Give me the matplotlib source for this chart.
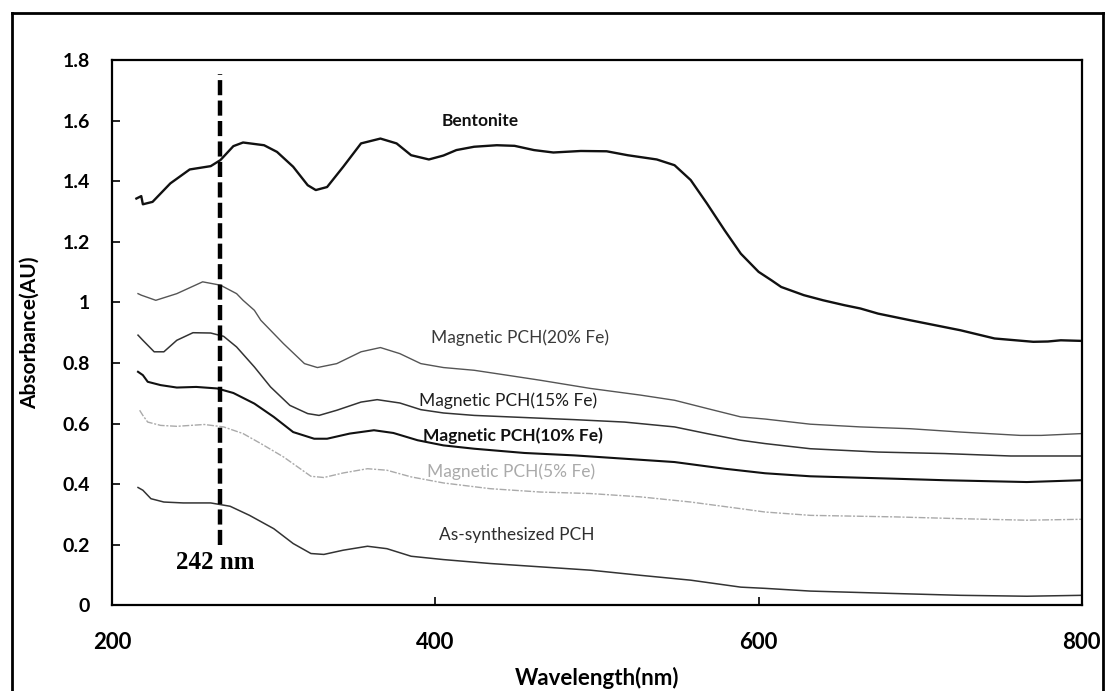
import matplotlib
matplotlib.use("Agg")
import matplotlib.pyplot as plt
from matplotlib.lines import Line2D

plt.rcParams["font.family"] = ["Lato", "DejaVu Sans"]

wl_bent = [215, 218, 219, 225, 236, 248, 261, 267, 275, 281, 294, 302, 312, 321, 326, 333,
           343, 354, 366, 376, 385, 396, 405, 413, 424, 438, 449, 461, 473, 490, 506, 519,
           537, 548, 558, 568, 579, 589, 600, 608, 614, 628, 640, 653, 663, 674, 694, 725,
           746, 770, 779, 787, 800]
abs_bent = [1.343, 1.351, 1.324, 1.332, 1.393, 1.439, 1.450, 1.470, 1.516, 1.528, 1.519,
            1.497, 1.448, 1.387, 1.371, 1.381, 1.448, 1.525, 1.541, 1.525, 1.486, 1.472,
            1.485, 1.503, 1.514, 1.519, 1.517, 1.503, 1.495, 1.500, 1.499, 1.486, 1.472,
            1.453, 1.404, 1.327, 1.238, 1.161, 1.101, 1.073, 1.051, 1.024, 1.007, 0.991,
            0.980, 0.963, 0.941, 0.908, 0.881, 0.870, 0.871, 0.875, 0.873]

wl_fe20 = [216, 218, 227, 240, 256, 267, 277, 281, 288, 292, 306, 319, 327, 339, 354, 366,
           378, 391, 405, 424, 444, 465, 496, 527, 548, 568, 589, 604, 632, 663, 694, 725,
           762, 775, 800]
abs_fe20 = [1.029, 1.024, 1.007, 1.029, 1.068, 1.057, 1.029, 1.007, 0.974, 0.941, 0.864,
            0.798, 0.785, 0.798, 0.837, 0.851, 0.831, 0.798, 0.785, 0.776, 0.760, 0.743,
            0.716, 0.694, 0.677, 0.650, 0.622, 0.615, 0.598, 0.589, 0.583, 0.572, 0.561,
            0.561, 0.567]

wl_fe15 = [216, 219, 226, 232, 240, 250, 261, 269, 277, 288, 298, 310, 321, 328, 339, 354,
           364, 378, 391, 405, 424, 455, 486, 517, 548, 568, 589, 604, 632, 674, 715, 756,
           800]
abs_fe15 = [0.892, 0.875, 0.837, 0.837, 0.875, 0.900, 0.899, 0.888, 0.853, 0.787, 0.721,
            0.660, 0.633, 0.627, 0.644, 0.671, 0.679, 0.668, 0.646, 0.635, 0.627, 0.620,
            0.613, 0.605, 0.589, 0.567, 0.545, 0.534, 0.517, 0.506, 0.501, 0.493, 0.493]

wl_fe10 = [216, 219, 222, 230, 240, 252, 265, 275, 288, 300, 312, 325, 333, 347, 362, 374,
           389, 405, 424, 455, 486, 517, 548, 579, 604, 632, 684, 715, 766, 800]
abs_fe10 = [0.771, 0.760, 0.738, 0.727, 0.719, 0.721, 0.716, 0.701, 0.666, 0.622, 0.572,
            0.550, 0.550, 0.567, 0.578, 0.569, 0.545, 0.528, 0.517, 0.503, 0.495, 0.484,
            0.473, 0.451, 0.436, 0.426, 0.418, 0.413, 0.407, 0.413]

wl_fe5 = [217, 219, 222, 230, 240, 257, 269, 281, 292, 306, 323, 331, 343, 358, 370, 385,
          405, 434, 465, 496, 527, 558, 589, 604, 632, 684, 725, 766, 800]
abs_fe5 = [0.644, 0.627, 0.605, 0.594, 0.591, 0.597, 0.589, 0.567, 0.534, 0.490, 0.426,
           0.422, 0.437, 0.451, 0.446, 0.424, 0.404, 0.385, 0.374, 0.369, 0.358, 0.341,
           0.319, 0.308, 0.297, 0.292, 0.286, 0.281, 0.284]

wl_pch = [216, 219, 224, 232, 244, 261, 273, 285, 300, 312, 323, 331, 343, 358, 370, 385,
          405, 434, 465, 496, 527, 558, 589, 604, 632, 684, 725, 766, 800]
abs_pch = [0.389, 0.380, 0.352, 0.341, 0.338, 0.338, 0.327, 0.297, 0.253, 0.204, 0.171,
           0.168, 0.182, 0.195, 0.187, 0.162, 0.151, 0.138, 0.127, 0.116, 0.099, 0.083,
           0.060, 0.056, 0.047, 0.039, 0.033, 0.030, 0.033]

yticks = [0, 0.2, 0.4, 0.6, 0.8, 1.0, 1.2, 1.4, 1.6, 1.8]
ytick_labels = ["0", "0.2", "0.4", "0.6", "0.8", "1", "1.2", "1.4", "1.6", "1.8"]
xticks = [200, 400, 600, 800]
peak_wl = 267  # position of the dashed marker on the plot

fig = plt.figure(figsize=(11.05, 6.91), dpi=100)
fig.subplots_adjust(left=0.1015, right=0.979, top=0.913, bottom=0.124)
ax = fig.add_subplot(111)

ax.plot(wl_bent, abs_bent, color="#111111", lw=1.7)
ax.plot(wl_fe20, abs_fe20, color="#555555", lw=1.0)
ax.plot(wl_fe15, abs_fe15, color="#333333", lw=1.1)
ax.plot(wl_fe10, abs_fe10, color="#111111", lw=1.5)
ax.plot(wl_fe5, abs_fe5, color="#aaaaaa", lw=1.0, ls=(0, (5, 1.2, 1.5, 1.2)))
ax.plot(wl_pch, abs_pch, color="#333333", lw=1.1)

ax.plot([peak_wl, peak_wl], [0.2, 1.755], color="black", lw=3.2, dashes=(3.4, 1.2))
ax.text(264, 0.142, "242 nm", family="Liberation Serif", weight="bold", fontsize=18,
        ha="center", va="center")

ax.text(404, 1.598, "Bentonite", weight="bold", fontsize=12.5, va="center", color="#111111")
ax.text(397, 0.885, "Magnetic PCH(20% Fe)", fontsize=12.5, va="center", color="#3a3a3a")
ax.text(390, 0.677, "Magnetic PCH(15% Fe)", fontsize=12.5, va="center", color="#1e1e1e")
ax.text(392.5, 0.561, "Magnetic PCH(10% Fe)", weight="bold", fontsize=12.5, va="center",
        color="#111111")
ax.text(395, 0.441, "Magnetic PCH(5% Fe)", fontsize=12.5, va="center", color="#aaaaaa")
ax.text(402, 0.231, "As-synthesized PCH", fontsize=12.5, va="center", color="#2e2e2e")

ax.set_xlim(200, 800)
ax.set_ylim(0, 1.8)
ax.set_xticks(xticks)
ax.set_yticks(yticks)
ax.set_yticklabels(ytick_labels)
for lab in ax.get_xticklabels() + ax.get_yticklabels():
    lab.set_fontweight("bold")
ax.tick_params(axis="x", direction="in", length=6, width=1.2, labelsize=16, pad=19)
ax.tick_params(axis="y", direction="in", length=6, width=1.2, labelsize=14, pad=16)
for s in ax.spines.values():
    s.set_linewidth(1.6)
    s.set_color("black")

ax.set_xlabel("Wavelength(nm)", fontsize=16, weight="bold", labelpad=10.5)
ax.set_ylabel("Absorbance(AU)", fontsize=15, weight="bold", labelpad=16)

# outer frame of the figure image
for xs, ys in [([0.011, 0.011], [0.002, 0.981]), ([0.011, 0.998], [0.981, 0.981]),
               ([0.998, 0.998], [0.002, 0.981])]:
    fig.add_artist(Line2D(xs, ys, transform=fig.transFigure, color="black", lw=2))

fig.savefig("out.png", dpi=100)
